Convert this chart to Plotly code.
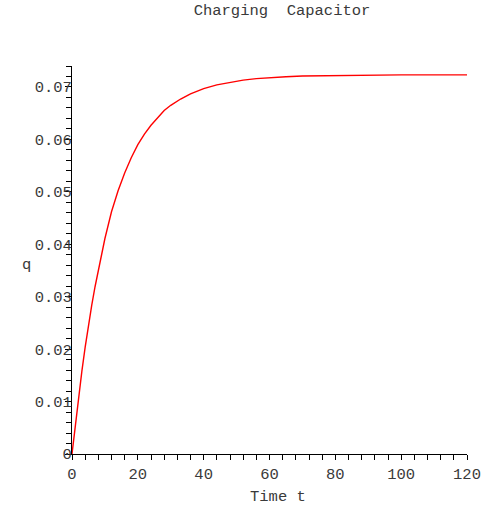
import plotly.graph_objects as go

# Data
t_vals = [0, 1, 2, 3, 4, 5, 6, 7, 8, 10, 12, 14, 16, 18, 20, 22, 24, 26, 28, 30, 33, 36,
          40, 44, 48, 52, 56, 60, 65, 70, 80, 90, 100, 110, 120]
q_vals = [0, 0.0055, 0.0108, 0.0158, 0.0204, 0.0246, 0.0284, 0.0319, 0.0351, 0.0411,
          0.0462, 0.0502, 0.0536, 0.0565, 0.0590, 0.0610, 0.0627, 0.0642, 0.0655, 0.0665,
          0.0677, 0.0687, 0.0697, 0.0704, 0.0709, 0.0713, 0.0716, 0.0718, 0.07195, 0.0721,
          0.0722, 0.07225, 0.0723, 0.0723, 0.0723]

x_ticks = [0, 20, 40, 60, 80, 100, 120]
x_tick_labels = ["0", "20", "40", "60", "80", "100", "120"]
y_ticks = [0, 0.01, 0.02, 0.03, 0.04, 0.05, 0.06, 0.07]
y_tick_labels = ["0", "0.01", "0.02", "0.03", "0.04", "0.05", "0.06", "0.07"]

title_text = "Charging&nbsp;&nbsp;Capacitor"
x_label = "Time t"
y_label = "q"

FONT = "Liberation Mono, Courier New, monospace"
TXT = "#3a3a3a"

W, H = 487, 505
L, R_EDGE, TOP, BOT = 72, 467, 65.5, 454
PW, PH = R_EDGE - L, BOT - TOP

fig = go.Figure()
fig.add_trace(go.Scatter(x=t_vals, y=q_vals, mode="lines",
                         line=dict(color="red", width=1.4), showlegend=False,
                         hoverinfo="skip"))

fig.update_layout(
    template="none",
    width=W, height=H, autosize=False,
    margin=dict(l=L, r=W - R_EDGE, t=TOP, b=H - BOT, pad=0, autoexpand=False),
    paper_bgcolor="white", plot_bgcolor="white",
    font=dict(family=FONT, size=15, color=TXT),
    title=dict(text=title_text, x=282 / W, xref="container", xanchor="center",
               y=1 - 10 / H, yref="container", yanchor="middle",
               font=dict(family=FONT, size=15.5, color=TXT)),
    xaxis=dict(range=[0, 120], showgrid=False, zeroline=False, automargin=False,
               showline=True, linecolor="black", linewidth=1,
               tickmode="array", tickvals=x_ticks, ticktext=x_tick_labels,
               ticks="outside", ticklen=5, tickcolor="black", tickwidth=1,
               minor=dict(dtick=4, ticks="outside", ticklen=5, tickcolor="black", tickwidth=1),
               tickfont=dict(family=FONT, size=15.5, color=TXT)),
    yaxis=dict(range=[0, 0.074], showgrid=False, zeroline=False, automargin=False,
               showline=True, linecolor="black", linewidth=1,
               tickmode="array", tickvals=y_ticks, ticktext=y_tick_labels,
               ticks="outside", ticklen=6, tickcolor="black", tickwidth=1,
               minor=dict(dtick=0.002, tick0=0, ticks="outside", ticklen=5,
                          tickcolor="black", tickwidth=1),
               ticklabelstandoff=-10,
               tickfont=dict(family=FONT, size=15.5, color=TXT)),
    annotations=[
        dict(text=x_label, xref="paper", yref="paper", x=(277.5 - L) / PW,
             y=-(497 - BOT) / PH, xanchor="center", yanchor="middle",
             showarrow=False, font=dict(family=FONT, size=15.5, color=TXT)),
        dict(text=y_label, xref="paper", yref="paper", x=(26 - L) / PW,
             y=(BOT - 265) / PH, xanchor="center", yanchor="middle",
             showarrow=False, font=dict(family=FONT, size=15.5, color=TXT)),
    ],
)

fig.write_html("out.html",
               config={"displayModeBar": False, "responsive": False},
               post_script="document.body.style.margin='0px';document.body.style.overflow='hidden';")
